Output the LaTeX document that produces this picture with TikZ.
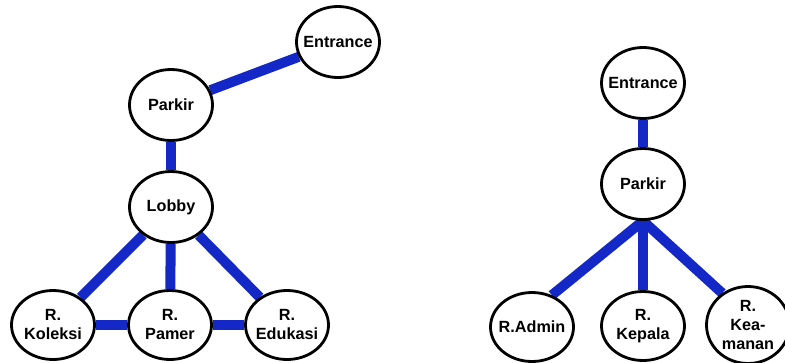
\documentclass[tikz,border=0pt]{standalone}
\usepackage{fontspec}
\setmainfont{Liberation Sans}
\usetikzlibrary{shapes.geometric,backgrounds}
\definecolor{edgeblue}{RGB}{20,40,200}
\tikzset{
  room/.style={ellipse, draw=black, line width=2.8pt, fill=white,
    minimum width=83pt, minimum height=71pt, inner sep=-7pt, align=center,
    font=\fontsize{16.2}{19}\selectfont\bfseries},
  link/.style={draw=edgeblue, line width=10pt}
}
\begin{document}
\begin{tikzpicture}[x=1pt,y=-1pt]
\useasboundingbox (0,0) rectangle (785,362);
% left graph
\node[room] (lent) at (338,42) {Entrance};
\node[room] (lpar) at (171,105) {Parkir};
\node[room] (llob) at (171,207) {Lobby};
\node[room, minimum height=69pt] (lkol) at (53,325) {R.\\Koleksi};
\node[room, minimum height=69pt] (lpam) at (170,325) {R.\\Pamer};
\node[room, minimum height=69pt] (ledu) at (287,325) {R.\\Edukasi};
% right graph
\node[room] (rent) at (643,83) {Entrance};
\node[room] (rpar) at (643,184) {Parkir};
\node[room, minimum height=69pt] (radm) at (532,327) {R.Admin};
\node[room, minimum height=69pt] (rkep) at (643,326) {R.\\Kepala};
\node[room, minimum height=77pt] (rkea) at (748,325) {R.\\Kea-\\manan};
\begin{scope}[on background layer]
\path[link] (lent) -- (lpar);
\path[link] (lpar) -- (llob);
\path[link] (llob) -- (lkol);
\path[link] (llob) -- (lpam);
\path[link] (llob) -- (ledu);
\path[link] (lkol) -- (lpam);
\path[link] (lpam) -- (ledu);
\path[link] (rent) -- (rpar);
\path[link] (rpar.south) -- (radm.58);
\path[link] (rpar) -- (rkep);
\path[link] (rpar.south) -- (rkea.129);
\end{scope}
\end{tikzpicture}
\end{document}
